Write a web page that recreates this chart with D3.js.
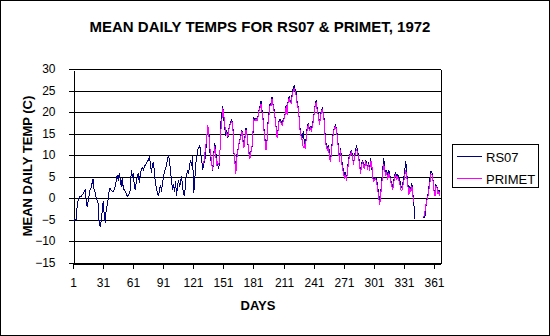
<!DOCTYPE html>
<html>
<head>
<meta charset="utf-8">
<script src="https://cdn.jsdelivr.net/npm/d3@7/dist/d3.min.js"></script>
<style>
  html, body { margin: 0; padding: 0; background: #fff; }
  svg { display: block; }
  text { font-family: "Liberation Sans", Arial, sans-serif; fill: #000; }
</style>
</head>
<body>
<svg id="chart" width="550" height="336"></svg>
<script>
// ---------------- DATA ----------------
const titleText = "MEAN DAILY TEMPS FOR RS07 & PRIMET, 1972";
const xTitle = "DAYS";
const yTitle = "MEAN DAILY TEMP (C)";
const seriesNames = ["RS07", "PRIMET"];
const xTickLabels = [1, 31, 61, 91, 121, 151, 181, 211, 241, 271, 301, 331, 361];
const yTickLabels = [-15, -10, -5, 0, 5, 10, 15, 20, 25, 30];
const firstDay = 1;
const lastDay = 366;

// RS07: days 1..366 (null = missing)
const rs07 = [
  -5.0, -5.1, -4.9, -5.0, -2.2, -0.5, 0.1, 0.5, 0.4, 0.8,
  1.0, 1.6, 2.0, -0.3, -1.9, -0.8, 0.8, 2.0, 2.4, 3.6,
  4.5, 2.0, 1.4, 0.2, -0.5, -1.1, -5.7, -6.5, -5.2, -3.0,
  -0.7, -3.5, -5.7, -2.6, -1.5, -0.2, 2.0, 2.4, 1.9, 1.7,
  1.6, 2.0, 2.8, 4.0, 5.5, 4.2, 5.9, 4.3, 2.8, 4.8,
  2.4, 2.0, 1.6, 1.2, 0.5, 0.6, 1.2, 2.0, 6.7, 5.0,
  5.9, 2.8, 2.0, 4.0, 5.3, 5.9, 3.6, 5.9, 6.8, 7.1,
  6.7, 7.4, 7.8, 8.2, 8.6, 9.0, 9.8, 8.0, 6.0, 7.8,
  8.4, 6.0, 3.6, 2.4, 1.2, 0.5, 1.8, 3.2, 1.6, 3.5,
  5.0, 6.3, 6.8, 7.8, 9.0, 10.2, 8.6, 6.3, 4.0, 2.4,
  3.0, 1.6, 4.0, 0.5, 3.2, 4.3, 2.6, 4.0, 5.1, 2.8,
  1.0, 0.5, 4.3, 5.5, 6.7, 5.8, 7.8, 9.0, 7.5, 9.8,
  1.2, 3.5, 8.2, 9.0, 11.3, 11.8, 12.5, 10.5, 9.0, 6.7,
  8.2, 8.6, 11.0, 14.0, 16.4, 16.0, 11.3, 9.0, 8.2, 6.3,
  10.5, 12.9, 10.8, 8.6, 7.8, 7.0, 9.5, 17.5, 19.5, 21.4,
  18.3, 16.4, 14.5, 15.8, 14.0, 16.2, 17.1, 17.9, 18.3, 17.1,
  10.6, 9.0, 6.7, 10.2, 11.3, 12.5, 13.7, 14.9, 16.0, 13.7,
  12.1, 14.4, 16.4, 15.2, 12.5, 10.9, 9.8, 11.0, 11.8, 15.0,
  18.7, 18.3, 18.7, 18.3, 19.2, 20.6, 21.4, 22.6, 20.6, 18.7,
  16.0, 13.7, 11.7, 13.7, 17.9, 20.0, 22.2, 21.8, 23.7, 21.8,
  20.6, 18.7, 16.7, 14.4, 16.0, 18.3, 18.3, 17.9, 17.3, 18.3,
  18.7, 19.8, 21.8, 19.8, 23.0, 23.7, 22.6, 22.6, 24.5, 25.6,
  26.4, 25.2, 24.5, 22.2, 21.4, 18.7, 15.6, 14.8, 14.4, 15.6,
  13.4, 11.7, 14.5, 16.7, 17.5, 16.0, 16.7, 16.0, 17.1, 18.3,
  20.3, 22.2, 23.0, 20.6, 19.8, 17.5, 19.0, 20.6, 21.0, 19.8,
  18.0, 13.7, 12.5, 11.7, 12.5, 10.9, 9.0, 11.0, 13.7, 15.6,
  16.7, 17.1, 16.4, 14.5, 11.7, 9.0, 11.7, 9.8, 7.4, 6.7,
  5.5, 6.2, 4.3, 6.7, 9.0, 10.2, 10.6, 11.3, 9.8, 8.2,
  10.0, 11.0, 12.5, 11.0, 10.0, 8.2, 6.0, 8.2, 9.0, 7.8,
  7.4, 9.0, 8.2, 7.4, 8.5, 6.7, 9.4, 7.4, 5.5, 4.3,
  4.6, 4.9, 4.3, 2.8, 1.2, -0.5, 1.5, 3.6, 6.7, 9.4,
  7.0, 6.0, 6.7, 4.9, 6.7, 5.5, 4.3, 3.6, 2.4, 4.3,
  5.5, 6.0, 5.0, 5.5, 4.9, 4.3, 2.8, 2.6, 3.6, 4.9,
  6.7, 8.6, 5.5, 3.6, 1.2, 2.8, 2.0, 3.6, 1.2, -1.1,
  -4.8, null, null, null, null, null, null, null, -4.1, -4.5,
  -4.2, -1.9, -0.3, 0.9, 2.8, 4.7, 6.3, 6.0, 4.5, 2.0,
  0.9, 3.2, 2.8, 1.2, 2.0, 1.2
];

// PRIMET: days 131..366 (null = missing)
const primetFirstDay = 131;
const primet = [
  8.0, 10.2, 12.0, 14.1, 17.1, 15.1, 12.0, 10.2, 7.8, 6.6,
  10.0, 12.1, 10.0, 8.0, 8.5, 7.8, 10.2, 15.6, 18.0, 21.0,
  19.4, 17.0, 15.6, 15.0, 14.4, 16.0, 17.0, 17.5, 18.0, 16.5,
  11.0, 8.5, 5.8, 9.5, 11.0, 12.8, 13.5, 14.5, 15.6, 13.2,
  11.8, 14.0, 16.0, 15.0, 12.8, 10.5, 9.3, 10.8, 12.0, 15.5,
  18.3, 18.0, 18.5, 18.0, 19.0, 20.3, 21.0, 22.0, 20.2, 18.3,
  15.6, 13.3, 11.3, 13.5, 17.5, 19.6, 21.7, 21.5, 23.2, 21.5,
  20.2, 18.5, 16.5, 14.0, 15.8, 18.0, 18.0, 17.5, 17.0, 18.0,
  18.5, 19.5, 21.4, 19.5, 22.6, 23.2, 22.3, 22.2, 24.0, 25.0,
  25.6, 24.8, 24.0, 21.8, 21.0, 18.3, 15.2, 14.4, 13.5, 11.7,
  12.5, 11.5, 14.0, 16.3, 17.2, 15.7, 16.4, 15.7, 16.7, 18.0,
  20.0, 21.8, 22.4, 20.2, 19.5, 17.2, 18.6, 20.2, 20.6, 19.4,
  17.6, 13.3, 12.0, 11.3, 12.0, 9.8, 8.5, 10.5, 13.3, 15.2,
  16.3, 16.7, 16.0, 14.0, 11.3, 8.6, 11.2, 9.3, 6.7, 6.0,
  4.8, 5.5, 4.0, 6.2, 8.6, 9.8, 10.2, 10.8, 9.4, 7.8,
  9.6, 10.6, 11.5, 10.5, 9.6, 7.8, 5.7, 7.8, 8.5, 7.4,
  7.0, 8.6, 7.8, 7.0, 8.0, 6.3, 8.6, 8.6, 5.0, 4.0,
  4.3, 4.6, 3.8, 2.2, 0.2, -1.5, 0.8, 3.2, 6.0, 8.0,
  6.5, 5.5, 6.0, 4.3, 6.0, 5.0, 3.8, 3.0, 2.0, 3.8,
  5.0, 5.5, 4.5, 5.0, 4.3, 3.6, 2.0, 1.8, 2.8, 4.0,
  5.5, 6.5, 5.0, 3.0, 0.8, 2.2, 1.6, 3.0, 0.5, -0.7,
  null, null, null, null, null, null, null, null, -4.0, -4.3,
  -3.0, -1.5, -0.5, 0.5, 2.0, 3.8, 5.5, 5.6, 4.2, 1.8,
  0.6, 2.8, 2.5, 1.0, 1.6, 0.5
];

const colors = ["#000080", "#FF00FF"];

// ---------------- DRAW ----------------
const svg = d3.select("#chart");
const W = 550, H = 336;
const plot = { left: 73, right: 441, top: 69.5, bottom: 263 };

svg.append("rect").attr("x", 0.5).attr("y", 0.5).attr("width", W - 1).attr("height", H - 1)
  .attr("fill", "#fff").attr("stroke", "#000").attr("stroke-width", 1);

const x = d3.scaleLinear().domain([firstDay, lastDay]).range([plot.left, plot.right - 1]);
const y = d3.scaleLinear().domain([d3.min(yTickLabels), d3.max(yTickLabels)]).range([plot.bottom, plot.top]);

const crisp = v => Math.floor(v) + 0.5;

// gridlines
svg.append("g").selectAll("line").data(yTickLabels).join("line")
  .attr("x1", plot.left).attr("x2", plot.right)
  .attr("y1", d => crisp(y(d))).attr("y2", d => crisp(y(d)))
  .attr("stroke", "#000").attr("stroke-width", 1).attr("shape-rendering", "crispEdges");

// plot border (right side)
svg.append("line").attr("x1", crisp(plot.right)).attr("x2", crisp(plot.right))
  .attr("y1", crisp(y(30))).attr("y2", crisp(y(-15)) + 0.5)
  .attr("stroke", "#000").attr("shape-rendering", "crispEdges");

// y axis
const yAxis = d3.axisLeft(y).tickValues(yTickLabels).tickSize(5).tickPadding(13).tickSizeOuter(0);
const gy = svg.append("g").attr("transform", `translate(${crisp(plot.left)},0.5)`).call(yAxis);
gy.selectAll("path.domain").attr("stroke", "#000").attr("shape-rendering", "crispEdges");
gy.selectAll(".tick line").attr("stroke", "#000").attr("shape-rendering", "crispEdges");
gy.selectAll(".tick").attr("transform", d => `translate(0,${Math.floor(y(d))})`);
gy.selectAll("text").attr("font-size", 12).attr("font-family", "Liberation Sans, Arial, sans-serif").attr("fill", "#000");

// x axis
const xAxis = d3.axisBottom(x).tickValues(xTickLabels).tickFormat(d3.format("d")).tickSize(5).tickPadding(10).tickSizeOuter(0);
const gx = svg.append("g").attr("transform", `translate(0.5,${crisp(plot.bottom)})`).call(xAxis);
gx.selectAll("path.domain").attr("stroke", "#000").attr("shape-rendering", "crispEdges");
gx.selectAll(".tick line").attr("stroke", "#000").attr("shape-rendering", "crispEdges");
gx.selectAll(".tick").attr("transform", d => `translate(${Math.floor(x(d))},0)`);
gx.selectAll("text").attr("font-size", 12).attr("font-family", "Liberation Sans, Arial, sans-serif").attr("fill", "#000");

// series
const rsData = rs07.map((v, i) => ({ day: firstDay + i, v }));
const prData = primet.map((v, i) => ({ day: primetFirstDay + i, v }));
const line = d3.line().defined(d => d.v != null).x(d => x(d.day)).y(d => y(d.v));
svg.append("path").datum(rsData).attr("d", line).attr("fill", "none")
  .attr("stroke", colors[0]).attr("stroke-width", 1).attr("shape-rendering", "crispEdges");
svg.append("path").datum(prData).attr("d", line).attr("fill", "none")
  .attr("stroke", colors[1]).attr("stroke-width", 1).attr("shape-rendering", "crispEdges");

// title
svg.append("text").attr("x", 260).attr("y", 32).attr("text-anchor", "middle")
  .attr("font-size", 15).attr("font-weight", "bold").text(titleText);

// axis titles
svg.append("text").attr("x", 258).attr("y", 310).attr("text-anchor", "middle")
  .attr("font-size", 13).attr("font-weight", "bold").text(xTitle);
svg.append("text").attr("transform", `translate(32,166) rotate(-90)`).attr("text-anchor", "middle")
  .attr("font-size", 13).attr("font-weight", "bold").text(yTitle);

// legend
const lg = svg.append("g");
lg.append("rect").attr("x", 452.5).attr("y", 144.5).attr("width", 86).attr("height", 43)
  .attr("fill", "#fff").attr("stroke", "#000").attr("shape-rendering", "crispEdges");
seriesNames.forEach((name, i) => {
  const yy = 156.5 + i * 22;
  lg.append("line").attr("x1", 457).attr("x2", 482).attr("y1", yy).attr("y2", yy)
    .attr("stroke", colors[i]).attr("stroke-width", 1).attr("shape-rendering", "crispEdges");
  lg.append("text").attr("x", 486).attr("y", yy + 5).attr("font-size", 13).text(name);
});
</script>
</body>
</html>
